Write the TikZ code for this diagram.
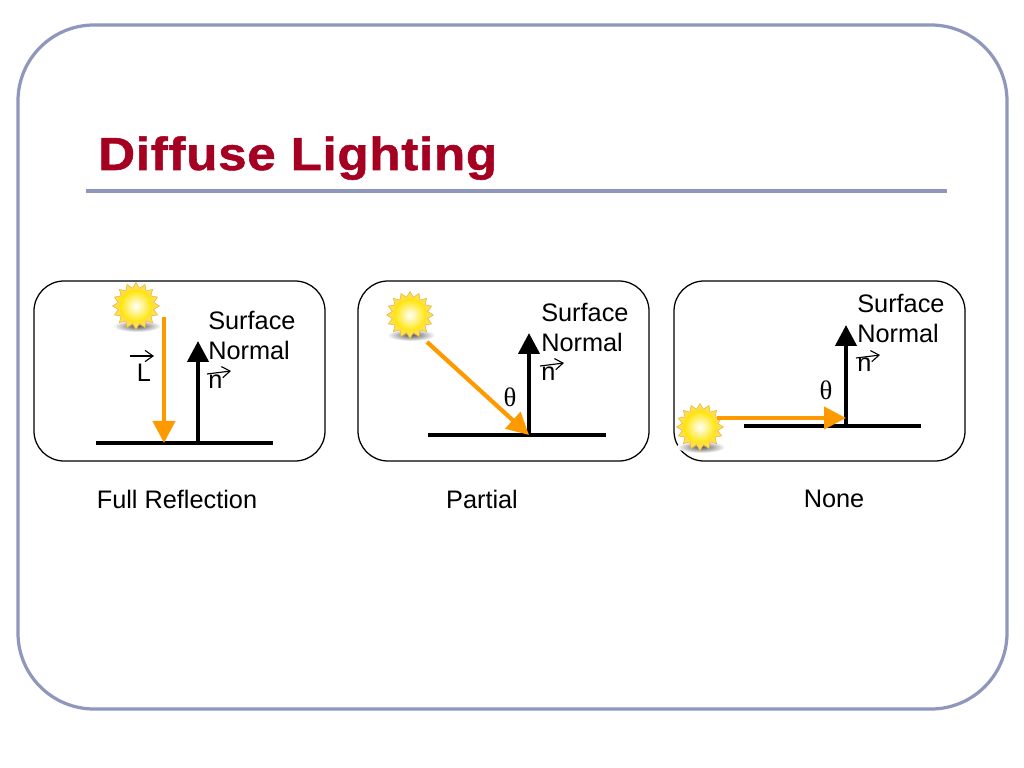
\documentclass[tikz,border=0pt]{standalone}
\usepackage{fontspec}
\setmainfont{Liberation Sans}
\newfontfamily\thetafont{Liberation Serif}
\newfontfamily\titlefont[FakeStretch=1.1, FakeBold=1.2, LetterSpace=1.6]{Liberation Sans Bold}
\usetikzlibrary{arrows.meta,shapes.geometric}
\definecolor{framecol}{HTML}{8F97BD}
\definecolor{titlecol}{HTML}{A50021}
\definecolor{raycol}{HTML}{FF9900}
\definecolor{starcol}{HTML}{FFDF4A}
\definecolor{starrim}{HTML}{E9B63C}
\definecolor{corecol}{HTML}{FFE400}
\tikzset{
    panel/.style={draw=black, line width=0.9pt, rounded corners=0.75cm},
    surface/.style={draw=black, line width=3pt},
    normalarrow/.style={draw=black, line width=3pt, -{Triangle[length=0.52cm, width=0.52cm]}},
    rayarrow/.style={draw=raycol, line width=3pt, -{Triangle[length=0.55cm, width=0.55cm]}},
    vecarrow/.style={draw=black, line width=0.8pt, -{Straight Barb[length=0.2cm, width=0.28cm]}},
    label/.style={font=\fontsize{18}{18}\selectfont, inner sep=0pt, anchor=west},
    caption/.style={font=\fontsize{18}{18}\selectfont, inner sep=0pt},
    anglelabel/.style={font=\fontsize{19}{19}\selectfont\thetafont, inner sep=0pt},
    sunshadow/.style={ellipse, minimum width=1.2cm, minimum height=0.3cm, inner sep=0pt, shade, inner color=black!65, outer color=white},
    sunstar/.style={star, star points=16, star point ratio=1.3, minimum size=1.17cm, inner sep=0pt, draw=starrim, line width=0.4pt, fill=starcol},
    suncore/.style={circle, minimum size=0.82cm, inner sep=0pt, shade, inner color=white, outer color=corecol}
}
\begin{document}
\begin{tikzpicture}[x=0.025cm, y=-0.025cm]
    \useasboundingbox (0,0) rectangle (1024,768);
    % Frame and title
    \draw[framecol, line width=2.3pt, rounded corners=1.9cm] (18,25) rectangle (1007,709);
    \node[font=\titlefont\fontsize{33}{33}\selectfont, text=titlecol, inner sep=0pt, anchor=base west] (title) at (98,170) {Diffuse Lighting};
    \coordinate (ruleL) at (86,191);
    \coordinate (ruleR) at (947,191);
    \draw[framecol, line width=3pt] (ruleL) -- (ruleR);
    % Panels
    \draw[panel] (34,281) rectangle (325,461);
    \draw[panel] (358,281) rectangle (649,461);
    \draw[panel] (674,281) rectangle (965,461);
    % Full reflection
    \coordinate (baseAl) at (96,443);
    \coordinate (baseAr) at (273,443);
    \coordinate (footA) at (198,443);
    \coordinate (tipA) at (198,341);
    \coordinate (rayAs) at (164,317);
    \coordinate (rayAe) at (164,443);
    \node[sunshadow] (shadowA) at (137,326) {};
    \node[sunstar] (sunA) at (136,306) {};
    \node[suncore] (coreA) at (136,306) {};
    \draw[surface] (baseAl) -- (baseAr);
    \draw[normalarrow] (footA) -- (tipA);
    \draw[rayarrow] (rayAs) -- (rayAe);
    \node[label] (surfA) at (208,320) {Surface};
    \node[label] (normA) at (208,350) {Normal};
    \node[label] (nA) at (208,382) {n};
    \node[caption] (vecL) at (144,373) {L};
    \draw[vecarrow] (130,356) -- (154,356);
    \draw[vecarrow] (207,374) -- (231,371);
    % Partial
    \coordinate (baseBl) at (428,435);
    \coordinate (baseBr) at (606,435);
    \coordinate (footB) at (529,435);
    \coordinate (tipB) at (529,333);
    \coordinate (rayBs) at (427,342);
    \coordinate (rayBe) at (529,435);
    \node[sunshadow] (shadowB) at (411,335) {};
    \node[sunstar] (sunB) at (410,315) {};
    \node[suncore] (coreB) at (410,315) {};
    \draw[surface] (baseBl) -- (baseBr);
    \draw[normalarrow] (footB) -- (tipB);
    \draw[rayarrow] (rayBs) -- (rayBe);
    \node[label] (surfB) at (541,312) {Surface};
    \node[label] (normB) at (541,342) {Normal};
    \node[label] (nB) at (541,374) {n};
    \node[anglelabel] (thetaB) at (510,397) {θ};
    \draw[vecarrow] (540,366) -- (564,363);
    % None
    \coordinate (baseCl) at (744,426);
    \coordinate (baseCr) at (921,426);
    \coordinate (footC) at (846,426);
    \coordinate (tipC) at (846,325);
    \coordinate (rayCs) at (717,418);
    \coordinate (rayCe) at (846,418);
    \node[sunshadow] (shadowC) at (701,447) {};
    \node[sunstar] (sunC) at (700,427) {};
    \node[suncore] (coreC) at (700,427) {};
    \draw[surface] (baseCl) -- (baseCr);
    \draw[normalarrow] (footC) -- (tipC);
    \draw[rayarrow] (rayCs) -- (rayCe);
    \node[label] (surfC) at (857,303) {Surface};
    \node[label] (normC) at (857,333) {Normal};
    \node[label] (nC) at (857,365) {n};
    \node[anglelabel] (thetaC) at (826,390) {θ};
    \draw[vecarrow] (856,358) -- (880,355);
    % Captions
    \node[caption] (capA) at (177,499) {Full Reflection};
    \node[caption] (capB) at (482,499) {Partial};
    \node[caption] (capC) at (834,499) {None};
\end{tikzpicture}
\end{document}
